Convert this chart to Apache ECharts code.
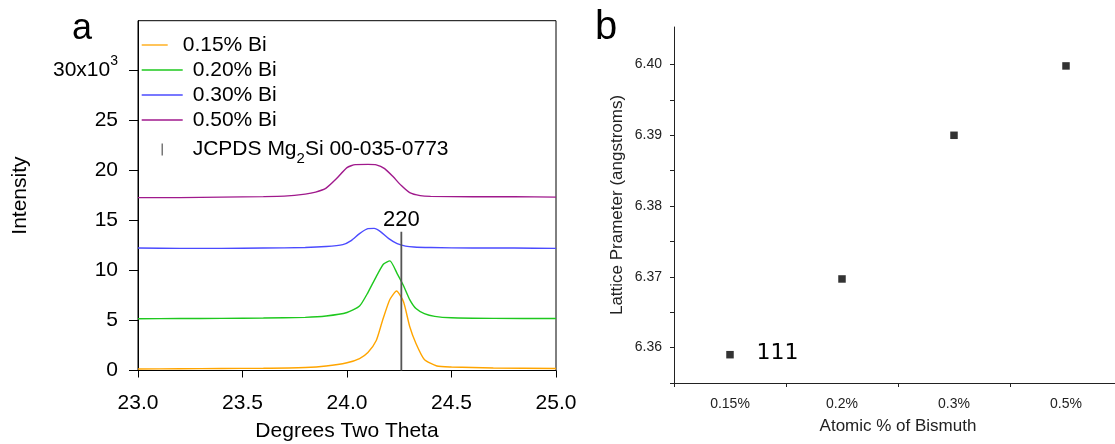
<!DOCTYPE html>
<html><head><meta charset="utf-8">
<script src="https://cdn.jsdelivr.net/npm/echarts@6/dist/echarts.min.js"></script>
<style>html,body{margin:0;padding:0;background:#fff}#c{width:1115px;height:444px}</style>
</head><body><div id="c"></div>
<script>
const FONT = "'Liberation Sans', Arial, sans-serif";

// ---- Panel a: XRD 220 peak (intensity in 10^3 counts) ----
const seriesNames = ['0.15% Bi', '0.20% Bi', '0.30% Bi', '0.50% Bi'];
const refName = 'JCPDS Mg2Si 00-035-0773';
const bi015 = [[23.00,0.15],[23.20,0.17],[23.40,0.2],[23.60,0.22],[23.80,0.3],[23.90,0.45],[24.00,0.78],[24.06,1.2],[24.10,1.8],[24.14,3.0],[24.17,5.0],[24.205,7.1],[24.237,7.95],[24.27,6.9],[24.30,4.4],[24.33,2.7],[24.37,1.1],[24.43,0.45],[24.50,0.35],[24.70,0.25],[25.00,0.2]];
const bi020 = [[23.00,5.18],[23.20,5.2],[23.40,5.22],[23.60,5.25],[23.80,5.32],[23.90,5.45],[24.00,5.8],[24.06,6.45],[24.10,7.8],[24.14,9.4],[24.175,10.65],[24.205,10.97],[24.24,9.7],[24.27,8.5],[24.30,7.1],[24.33,6.2],[24.37,5.7],[24.42,5.42],[24.50,5.28],[24.70,5.22],[25.00,5.2]];
const bi030 = [[23.00,12.25],[23.20,12.22],[23.40,12.22],[23.60,12.25],[23.80,12.3],[23.90,12.4],[23.98,12.6],[24.02,13.0],[24.06,13.7],[24.10,14.2],[24.13,14.22],[24.16,13.9],[24.20,13.2],[24.24,12.7],[24.28,12.45],[24.32,12.35],[24.40,12.3],[24.60,12.25],[24.80,12.25],[25.00,12.22]];
const bi050 = [[23.00,17.3],[23.20,17.3],[23.40,17.35],[23.60,17.4],[23.70,17.45],[23.80,17.65],[23.85,17.85],[23.90,18.25],[23.95,19.2],[24.00,20.3],[24.04,20.6],[24.10,20.62],[24.14,20.58],[24.18,20.2],[24.22,19.4],[24.26,18.5],[24.30,17.8],[24.35,17.5],[24.40,17.42],[24.60,17.38],[24.80,17.38],[25.00,17.35]];
const refPeak = [[24.26,0],[24.26,13.88]];
const refPeakLabel = '220';
const intensityTicks = [0,5,10,15,20,25,30];

// ---- Panel b: lattice parameter ----
const bismuthCats = ['0.15%', '0.2%', '0.3%', '0.5%'];
const latticeParam = [6.359, 6.3697, 6.390, 6.3998];
const latticeTicks = [6.355,6.36,6.365,6.37,6.375,6.38,6.385,6.39,6.395,6.40];
const latticeLabels = [6.36,6.37,6.38,6.39,6.40];

const colors = ['#ffa500', '#1ec81e', '#4b4bff', '#a0198c'];
const seriesData = [bi015, bi020, bi030, bi050];

const chart = echarts.init(document.getElementById('c'), null, {renderer: 'canvas'});

const lineSeries = seriesData.map((d, i) => ({
  name: seriesNames[i], type: 'line', xAxisIndex: 0, yAxisIndex: 0,
  data: d, symbol: 'none', showSymbol: false, smooth: 0.2,
  color: colors[i], itemStyle: {color: colors[i]}, lineStyle: {width: 1.4, color: colors[i]}, z: 3
}));

const shortLine = 'path://M0,0L26,0L26,1.3L0,1.3Z';
const longLine = 'path://M0,0L41,0L41,1.3L0,1.3Z';
const tick = 'path://M0,0L1.2,0L1.2,12L0,12Z';

const option = {
  backgroundColor: '#fff',
  animation: false,
  textStyle: {fontFamily: FONT},
  grid: [
    {left: 138, right: 559, top: 20.7, bottom: 73.5, show: true, borderColor: '#000', borderWidth: 1, backgroundColor: 'transparent', containLabel: false, outerBoundsMode: 'none'},
    {left: 674, right: -7, top: 27, bottom: 61, containLabel: false, outerBoundsMode: 'none'}
  ],
  legend: [
    {
      data: [{name: seriesNames[0], icon: shortLine}], orient: 'vertical', left: 141.7, top: 32.5, padding: 0, itemGap: 0,
      itemWidth: 26, itemHeight: 12, symbolKeepAspect: true,
      textStyle: {fontFamily: FONT, fontSize: 21, lineHeight: 25, color: '#000', padding: [0,0,0,10]}
    },
    {
      data: [{name: seriesNames[1], icon: longLine}, {name: seriesNames[2], icon: longLine}, {name: seriesNames[3], icon: longLine}, {name: refName, icon: tick}],
      orient: 'vertical', left: 141.7, top: 57.5, padding: 0, itemGap: 0,
      itemWidth: 41, itemHeight: 12, symbolKeepAspect: true,
      formatter: n => n === refName ? 'JCPDS Mg{sub|2}Si 00-035-0773' : n,
      textStyle: {fontFamily: FONT, fontSize: 21, lineHeight: 25, color: '#000', padding: [0,0,0,5],
        rich: {sub: {fontFamily: FONT, fontSize: 15, lineHeight: 25, color: '#000', padding: [19,0,0,0]}}}
    }
  ],
  xAxis: [
    {
      type: 'value', gridIndex: 0, min: 23, max: 25, interval: 0.5,
      axisLine: {show: true, onZero: false, lineStyle: {color: '#000', width: 1}},
      axisTick: {show: true, inside: false, length: 7, lineStyle: {color: '#000'}},
      axisLabel: {fontFamily: FONT, fontSize: 21, color: '#000', margin: 22, formatter: v => v.toFixed(1)},
      splitLine: {show: false},
      name: 'Degrees Two Theta', nameLocation: 'middle', nameGap: 50,
      nameTextStyle: {fontFamily: FONT, fontSize: 21, color: '#000'}
    },
    {
      type: 'category', gridIndex: 1, data: bismuthCats, boundaryGap: true,
      axisLine: {show: true, lineStyle: {color: '#222', width: 1}},
      axisTick: {show: true, inside: false, length: 4, alignWithLabel: false, lineStyle: {color: '#222'}},
      axisLabel: {fontFamily: FONT, fontSize: 14, color: '#222', margin: 14},
      splitLine: {show: false},
      name: 'Atomic % of Bismuth', nameLocation: 'middle', nameGap: 35,
      nameTextStyle: {fontFamily: FONT, fontSize: 17, color: '#222'}
    }
  ],
  yAxis: [
    {
      type: 'value', gridIndex: 0, min: 0, max: 35, interval: 5,
      axisLine: {show: true, onZero: false, lineStyle: {color: '#000', width: 1}},
      axisTick: {show: true, inside: false, length: 9, customValues: intensityTicks, lineStyle: {color: '#000'}},
      axisLabel: {
        fontFamily: FONT, fontSize: 21, color: '#000', margin: 20, lineHeight: 21,
        customValues: intensityTicks,
        formatter: v => v === 30 ? '30x10{sup|3}' : String(v),
        rich: {sup: {fontFamily: FONT, fontSize: 14, lineHeight: 21, color: '#000', padding: [0,0,20,0]}}
      },
      splitLine: {show: false},
      name: 'Intensity', nameLocation: 'middle', nameGap: 107, nameRotate: 90,
      nameTextStyle: {fontFamily: FONT, fontSize: 21, color: '#000'}
    },
    {
      type: 'value', gridIndex: 1, min: 6.355, max: 6.4053,
      axisLine: {show: true, onZero: false, lineStyle: {color: '#222', width: 1}},
      axisTick: {show: true, inside: false, length: 4, customValues: latticeTicks, lineStyle: {color: '#222'}},
      axisLabel: {fontFamily: FONT, fontSize: 14, color: '#222', margin: 12, customValues: latticeLabels, formatter: v => v.toFixed(2)},
      splitLine: {show: false},
      name: 'Lattice Prameter (angstroms)', nameLocation: 'middle', nameGap: 48, nameRotate: 90,
      nameTextStyle: {fontFamily: FONT, fontSize: 17, color: '#222'}
    }
  ],
  series: [
    ...lineSeries,
    {
      name: refName, type: 'line', xAxisIndex: 0, yAxisIndex: 0, data: refPeak,
      symbol: 'none', showSymbol: false, color: '#555',
      itemStyle: {color: '#555'}, lineStyle: {width: 1.8, color: '#555'}, z: 4
    },
    {
      name: 'refLabel', type: 'scatter', xAxisIndex: 0, yAxisIndex: 0,
      data: [refPeak[1]], symbol: 'circle', symbolSize: 1,
      itemStyle: {color: 'rgba(0,0,0,0)'}, silent: true,
      label: {show: true, position: 'top', distance: 0, formatter: () => refPeakLabel,
        fontFamily: FONT, fontSize: 22, color: '#000', opacity: 1}
    },
    {
      name: 'Lattice', type: 'scatter', xAxisIndex: 1, yAxisIndex: 1,
      data: latticeParam, symbol: 'rect', symbolSize: 7.5,
      itemStyle: {color: '#000'}
    }
  ],
  graphic: [
    {type: 'text', style: {x: 82, y: 29.5, text: 'a', fontFamily: FONT, fontSize: 36, fill: '#000', textAlign: 'center', textVerticalAlign: 'middle'}},
    {type: 'text', style: {x: 606, y: 27.7, text: 'b', fontFamily: FONT, fontSize: 40, fill: '#000', textAlign: 'center', textVerticalAlign: 'middle'}},
    {type: 'text', style: {x: 777.5, y: 353, text: '111', fontFamily: "'DejaVu Sans', sans-serif", fontSize: 22, fill: '#000', textAlign: 'center', textVerticalAlign: 'middle'}}
  ]
};
chart.setOption(option);
</script>
</body></html>
